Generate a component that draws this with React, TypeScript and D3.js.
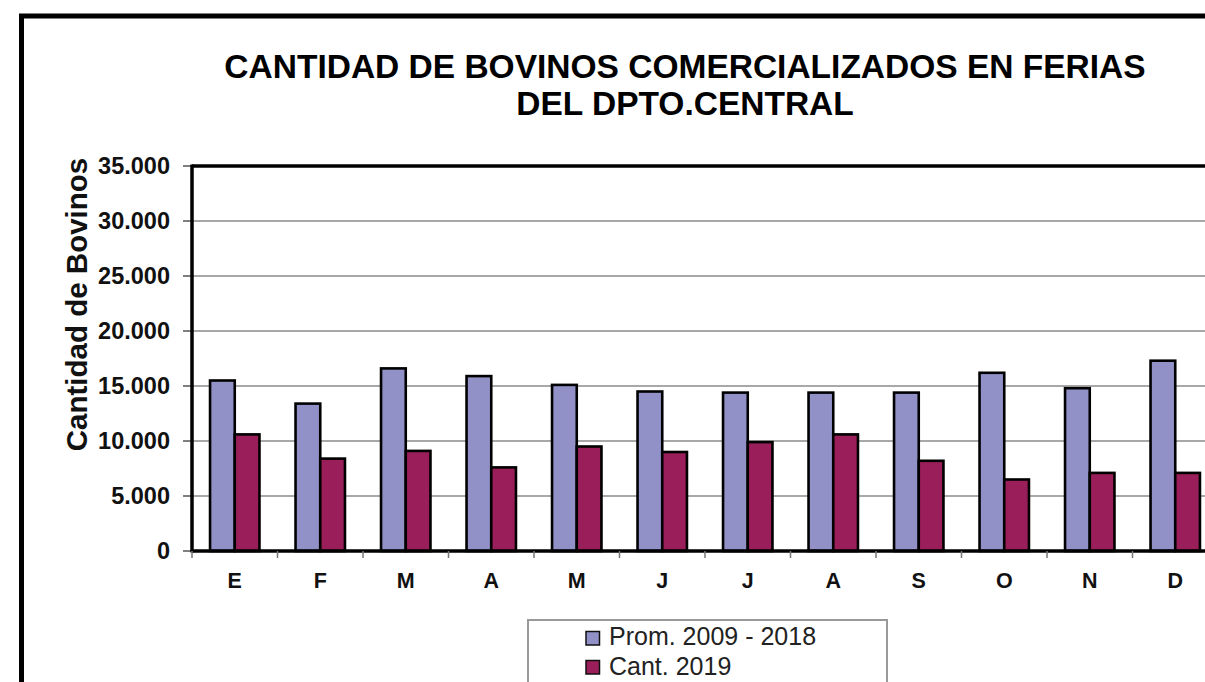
import React from "react";
import * as d3 from "d3";

const months = ["E", "F", "M", "A", "M", "J", "J", "A", "S", "O", "N", "D"];
const prom = [15500, 13400, 16600, 15900, 15100, 14500, 14400, 14400, 14400, 16200, 14800, 17300];
const cant2019 = [10600, 8400, 9100, 7600, 9500, 9000, 9900, 10600, 8200, 6500, 7100, 7100];
const seriesNames = ["Prom. 2009 - 2018", "Cant. 2019"];
const seriesColors = ["#9191C8", "#991E5A"];
const yTicks = [0, 5000, 10000, 15000, 20000, 25000, 30000, 35000];
const titleLines = ["CANTIDAD DE BOVINOS COMERCIALIZADOS EN FERIAS", "DEL DPTO.CENTRAL"];
const yTitle = "Cantidad de Bovinos";

const W = 1205;
const H = 682;
const plotLeft = 192;
const plotTop = 166;
const plotBottom = 551;
const step = 85.5;
const plotRight = plotLeft + step * months.length;

const fmt = (v: number) => d3.format(",")(v).replace(/,/g, ".");

export default function App() {
  const x0 = d3
    .scaleBand<number>()
    .domain(months.map((_, i) => i))
    .range([plotLeft, plotRight])
    .paddingInner(0)
    .paddingOuter(0);
  const x1 = d3
    .scaleBand<number>()
    .domain([0, 1])
    .range([0, x0.bandwidth()])
    .paddingInner(0)
    .paddingOuter(0.73);
  const y = d3.scaleLinear().domain([0, 35000]).range([plotBottom, plotTop]);
  const data = [prom, cant2019];
  const font = "'Liberation Sans', Arial, sans-serif";

  return (
    <svg
      width={W}
      height={H}
      style={{ position: "absolute", left: 0, top: 0, background: "#fff" }}
      fontFamily={font}
    >
      <rect x={0} y={0} width={W} height={H} fill="#fff" />
      {/* outer border */}
      <rect x={21.5} y={16} width={1400} height={900} fill="none" stroke="#000" strokeWidth={5} />

      {/* title */}
      {titleLines.map((t, i) => (
        <text
          key={i}
          x={685}
          y={78 + i * 37}
          textAnchor="middle"
          fontWeight="bold"
          fontSize={33.5}
          fill="#000"
        >
          {t}
        </text>
      ))}

      {/* gridlines */}
      {yTicks
        .filter((t) => t > 0 && t < 35000)
        .map((t) => (
          <line key={t} x1={plotLeft} x2={plotRight} y1={y(t)} y2={y(t)} stroke="#A8A8A8" strokeWidth={2} />
        ))}

      {/* y ticks & labels */}
      {yTicks.map((t) => (
        <g key={t}>
          <line x1={183} x2={plotLeft} y1={y(t)} y2={y(t)} stroke="#555" strokeWidth={1.5} />
          <text
            x={170}
            y={y(t)}
            dy="0.36em"
            textAnchor="end"
            fontWeight="bold"
            fontSize={23.5}
            fill="#111"
          >
            {fmt(t)}
          </text>
        </g>
      ))}

      {/* bars */}
      {months.map((_, i) =>
        data.map((s, k) => (
          <rect
            key={`${i}-${k}`}
            x={(x0(i) as number) + (x1(k) as number)}
            y={y(s[i])}
            width={x1.bandwidth()}
            height={plotBottom - y(s[i])}
            fill={seriesColors[k]}
            stroke="#000"
            strokeWidth={2.6}
          />
        ))
      )}

      {/* plot frame */}
      <line x1={plotLeft} x2={plotRight} y1={plotTop} y2={plotTop} stroke="#000" strokeWidth={3.5} />
      <line x1={plotLeft} x2={plotLeft} y1={plotTop - 1.5} y2={plotBottom + 1.5} stroke="#000" strokeWidth={3.5} />
      <line x1={plotLeft} x2={plotRight} y1={plotBottom} y2={plotBottom} stroke="#000" strokeWidth={3.5} />

      {/* x ticks */}
      {months.map((_, i) => (
        <line
          key={i}
          x1={x0(i) as number}
          x2={x0(i) as number}
          y1={plotBottom}
          y2={plotBottom + 7}
          stroke="#777"
          strokeWidth={1.5}
        />
      ))}
      {/* x labels */}
      {months.map((m, i) => (
        <text
          key={i}
          x={(x0(i) as number) + x0.bandwidth() / 2}
          y={588}
          textAnchor="middle"
          fontWeight="bold"
          fontSize={21.5}
          fill="#111"
        >
          {m}
        </text>
      ))}

      {/* y axis title */}
      <text
        transform={`translate(87,304.5) rotate(-90)`}
        textAnchor="middle"
        fontWeight="bold"
        fontSize={29.5}
        fill="#111"
      >
        {yTitle}
      </text>

      {/* legend */}
      <rect x={528} y={620} width={359} height={100} fill="#fff" stroke="#999" strokeWidth={2} />
      {seriesNames.map((n, k) => (
        <g key={k}>
          <rect
            x={586}
            y={631.5 + k * 29}
            width={13.5}
            height={13.5}
            fill={seriesColors[k]}
            stroke="#111"
            strokeWidth={1.5}
          />
          <text x={609} y={645 + k * 30} fontSize={25} fill="#222">
            {n}
          </text>
        </g>
      ))}
    </svg>
  );
}
